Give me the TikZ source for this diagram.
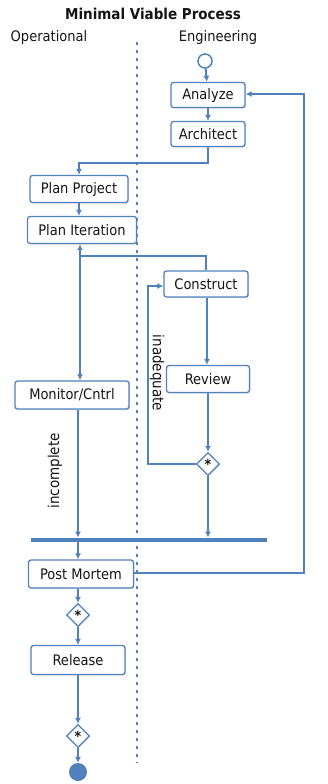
\documentclass[tikz,border=0pt]{standalone}
\usepackage{fontspec}
\setmainfont{DejaVu Sans Condensed}
\usetikzlibrary{arrows.meta,shapes.geometric,shadows}
\definecolor{uml}{RGB}{79,129,189}
\definecolor{ink}{RGB}{20,20,20}
\tikzset{
  actbox/.style={draw=uml, line width=1.3pt, fill=white, rounded corners=2.5pt, inner sep=0pt,
     minimum height=27, font=\fontsize{14.5}{16}\selectfont, text=ink,
     drop shadow={opacity=0.25, shadow xshift=1pt, shadow yshift=-1pt}},
  merge/.style={diamond, draw=uml, line width=1.3pt, fill=white, minimum size=23, inner sep=0pt,
     font=\bfseries\fontsize{14}{14}\selectfont, text=ink,
     drop shadow={opacity=0.25, shadow xshift=1pt, shadow yshift=-1pt}},
  flow/.style={draw=uml, line width=2pt, -{Latex[length=6pt,width=6pt]}},
  lane/.style={font=\fontsize{14.5}{16}\selectfont, text=ink},
  guard/.style={font=\fontsize{15}{17}\selectfont, text=ink}
}
\begin{document}
\begin{tikzpicture}[x=1pt,y=-1pt]
\useasboundingbox (0,0) rectangle (328,784);
% titles
\node[font=\bfseries\fontsize{15}{17}\selectfont, text=ink] (title) at (153,14) {Minimal Viable Process};
\node[lane] (op) at (49,38) {Operational};
\node[lane] (eng) at (218,38) {Engineering};
% swimlane divider
\coordinate (dtop) at (137,42);
\coordinate (dbot) at (137,763);
\draw[uml, line width=2pt, dash pattern=on 3pt off 5pt] (dtop) -- (dbot);
% nodes
\node[circle, draw=uml, line width=1.5pt, fill=white, minimum size=14, inner sep=0pt] (start) at (205,61) {};
\node[actbox, minimum width=74, minimum height=25] (analyze) at (208,95) {Analyze};
\node[actbox, minimum width=74, minimum height=25] (architect) at (208,134) {Architect};
\node[actbox, minimum width=98] (planproj) at (79,189) {Plan Project};
\node[actbox, minimum width=109] (planiter) at (82,230) {Plan Iteration};
\node[actbox, minimum width=84, minimum height=26] (construct) at (206,284) {Construct};
\node[actbox, minimum width=83] (review) at (208,379) {Review};
\node[actbox, minimum width=114, minimum height=28] (monitor) at (72,395) {Monitor/Cntrl};
\node[merge] (d1) at (208,464) {*};
\node[fill=uml, minimum width=236, minimum height=4.5, inner sep=0pt] (bar) at (149,540) {};
\node[actbox, minimum width=105, minimum height=28] (post) at (81,574) {Post Mortem};
\node[merge] (d2) at (78,615) {*};
\node[actbox, minimum width=94, minimum height=29] (release) at (78,660) {Release};
\node[merge] (d3) at (78,736) {*};
\node[circle, fill=uml, minimum size=18, inner sep=0pt] (final) at (78,772) {};
% guards
\node[guard, rotate=-90] (inad) at (157,373) {inadequate};
\node[guard, rotate=90] (incomp) at (55,471) {incomplete};
% connectors
\coordinate (c1) at (208,163);
\coordinate (c1b) at (79,163);
\coordinate (c2) at (206,256);
\coordinate (c3) at (80,256);
\coordinate (c4) at (148,464);
\coordinate (c5) at (148,286);
\coordinate (c6) at (78,540);
\coordinate (c7) at (304,573);
\coordinate (c8) at (304,94);
\draw[flow] (start) -- (analyze);
\draw[flow] (analyze) -- (architect);
\draw[flow] (architect) -- (c1) -- (c1b) -- (planproj);
\draw[flow] (planproj) -- (planproj |- planiter.north);
\draw[flow] (construct.north -| c2) -- (c2) -- (c3) -- (c3 |- planiter.south);
\draw[flow] (c3) -- (c3 |- monitor.north);
\draw[flow] (construct.south -| 207,0) -- (review.north -| 207,0);
\draw[flow] (review) -- (d1);
\draw[flow] (d1.west) -- (c4) -- (c5) -- (construct.west |- c5);
\draw[flow] (d1) -- (d1 |- bar.north);
\draw[flow] (monitor.south -| c6) -- (c6 |- bar.north);
\draw[flow] (c6 |- bar.south) -- (c6 |- post.north);
\draw[flow, line width=2.5pt] (post.east |- c7) -- (c7) -- (c8) -- (analyze.east |- c8);
\draw[flow] (post.south -| d2) -- (d2);
\draw[flow] (d2) -- (release);
\draw[flow] (release) -- (d3);
\draw[flow] (d3) -- (final);
\end{tikzpicture}
\end{document}
